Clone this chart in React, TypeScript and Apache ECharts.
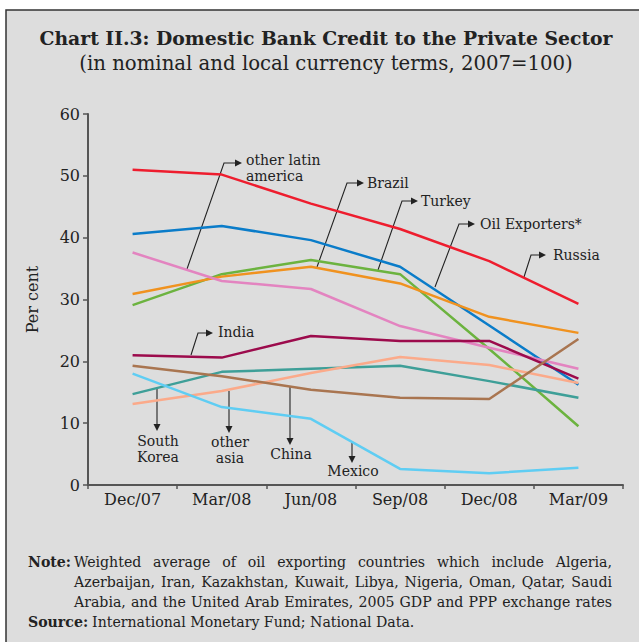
import React, { useEffect, useRef } from "react";
import * as echarts from "echarts";

const categories = ["Dec/07", "Mar/08", "Jun/08", "Sep/08", "Dec/08", "Mar/09"];
const russia = [51.0, 50.2, 45.5, 41.4, 36.2, 29.3];
const oilExporters = [40.6, 41.9, 39.6, 35.3, 25.8, 16.2];
const turkey = [29.1, 34.1, 36.4, 34.1, 22.0, 9.5];
const brazil = [30.9, 33.7, 35.3, 32.6, 27.2, 24.6];
const otherLatinAmerica = [37.6, 33.0, 31.7, 25.7, 22.2, 18.8];
const india = [21.0, 20.6, 24.1, 23.3, 23.3, 17.2];
const southKorea = [14.7, 18.3, 18.8, 19.3, 16.8, 14.1];
const otherAsia = [13.1, 15.2, 18.1, 20.7, 19.4, 16.5];
const china = [19.3, 17.6, 15.4, 14.1, 13.9, 23.6];
const mexico = [18.0, 12.6, 10.7, 2.6, 1.9, 2.8];

const seriesDefs = [
  { name: "Russia", data: russia, color: "#ee1d2e" },
  { name: "Oil Exporters*", data: oilExporters, color: "#0a7cc9" },
  { name: "Turkey", data: turkey, color: "#6cb33f" },
  { name: "Brazil", data: brazil, color: "#f0921f" },
  { name: "other latin america", data: otherLatinAmerica, color: "#e384c0" },
  { name: "India", data: india, color: "#9c0b4c" },
  { name: "South Korea", data: southKorea, color: "#3e9f98" },
  { name: "other asia", data: otherAsia, color: "#fbaa8a" },
  { name: "China", data: china, color: "#a97550" },
  { name: "Mexico", data: mexico, color: "#5fcdf3" },
];

const titleText = "Chart II.3: Domestic Bank Credit to the Private Sector";
const subtitleText = "(in nominal and local currency terms, 2007=100)";
const noteLines = [
  "Weighted average of oil exporting countries which include Algeria,",
  "Azerbaijan, Iran, Kazakhstan, Kuwait, Libya, Nigeria, Oman, Qatar, Saudi",
  "Arabia, and the United Arab Emirates, 2005 GDP and PPP exchange rates",
];
const sourceText = "International Monetary Fund; National Data.";

const SERIF = "'DejaVu Serif', serif";
const NOTE_FONT = "15.7px 'DejaVu Serif Condensed', 'DejaVu Serif', serif";
const NOTE_BOLD = "bold 15.7px 'DejaVu Serif Condensed', 'DejaVu Serif', serif";
const INK = "#222";

function measure(text: string, font: string): number {
  const c = document.createElement("canvas");
  const ctx = c.getContext("2d");
  if (!ctx) return text.length * 7;
  ctx.font = font;
  return ctx.measureText(text).width;
}

function justified(line: string, x0: number, x1: number, y: number, font: string) {
  const words = line.split(" ");
  const widths = words.map((w) => measure(w, font));
  const total = widths.reduce((a, b) => a + b, 0);
  const gap = (x1 - x0 - total) / (words.length - 1);
  const out: any[] = [];
  let x = x0;
  words.forEach((w, i) => {
    out.push({
      type: "text",
      style: { text: w, x, y, font, fill: INK, textVerticalAlign: "middle" },
    });
    x += widths[i] + gap;
  });
  return out;
}

function rightArrow(points: number[][], label: string[], tx: number, ty: number) {
  const last = points[points.length - 1];
  const els: any[] = [
    {
      type: "polyline",
      shape: { points },
      style: { stroke: INK, lineWidth: 1.1, fill: null },
    },
    {
      type: "polygon",
      shape: { points: [[last[0] + 2, last[1]], [last[0] - 5, last[1] - 3.5], [last[0] - 5, last[1] + 3.5]] },
      style: { fill: INK },
    },
  ];
  label.forEach((t, i) => {
    els.push({
      type: "text",
      style: { text: t, x: tx, y: ty + i * 15.5, font: `14px ${SERIF}`, fill: INK, textVerticalAlign: "middle" },
    });
  });
  return els;
}

function downArrow(x: number, y0: number, y1: number, label: string[], ty: number) {
  const els: any[] = [
    { type: "line", shape: { x1: x, y1: y0, x2: x, y2: y1 - 3 }, style: { stroke: INK, lineWidth: 1.1 } },
    {
      type: "polygon",
      shape: { points: [[x, y1 + 1], [x - 3.5, y1 - 6], [x + 3.5, y1 - 6]] },
      style: { fill: INK },
    },
  ];
  label.forEach((t, i) => {
    els.push({
      type: "text",
      style: { text: t, x: x + 1, y: ty + i * 15.5, font: `14px ${SERIF}`, fill: INK, textAlign: "center", textVerticalAlign: "middle" },
    });
  });
  return els;
}

export default function App() {
  const ref = useRef<HTMLDivElement>(null);
  useEffect(() => {
    if (!ref.current) return;
    const chart = echarts.init(ref.current, null, { renderer: "svg" });
    const sourceLabelW = measure("Source:", NOTE_BOLD);
    const graphics: any[] = [
      {
        type: "rect",
        z: -10,
        shape: { x: 6, y: 10, width: 650, height: 650 },
        style: { fill: "#dddddd", stroke: "#333", lineWidth: 1.5 },
      },
      {
        type: "text",
        style: { text: titleText, x: 326, y: 38, font: `bold 18.8px ${SERIF}`, fill: INK, textAlign: "center", textVerticalAlign: "middle" },
      },
      {
        type: "text",
        style: { text: subtitleText, x: 326, y: 63, font: `19.7px ${SERIF}`, fill: INK, textAlign: "center", textVerticalAlign: "middle" },
      },
      ...rightArrow([[187, 269], [224, 163], [240, 163]], ["other latin", "america"], 246, 160),
      ...rightArrow([[317, 267], [347, 183], [362, 183]], ["Brazil"], 367, 183),
      ...rightArrow([[378, 270], [402, 201], [416, 201]], ["Turkey"], 421, 201),
      ...rightArrow([[435, 287], [459, 224], [473, 224]], ["Oil Exporters*"], 480, 224),
      ...rightArrow([[524, 277], [531, 255], [544, 255]], ["Russia"], 553, 255),
      ...rightArrow([[191, 355], [198, 333], [211, 333]], ["India"], 218, 332),
      ...downArrow(157, 388, 430, ["South", "Korea"], 441),
      ...downArrow(229, 391, 432, ["other", "asia"], 442),
      ...downArrow(290, 387, 444, ["China"], 454),
      ...downArrow(352, 443, 462, ["Mexico"], 471),
      {
        type: "text",
        style: { text: "Note:", x: 28, y: 561, font: NOTE_BOLD, fill: INK, textVerticalAlign: "middle" },
      },
      ...justified(noteLines[0], 74, 612, 561, NOTE_FONT),
      ...justified(noteLines[1], 74, 612, 581, NOTE_FONT),
      ...justified(noteLines[2], 74, 612, 601, NOTE_FONT),
      {
        type: "text",
        style: { text: "Source:", x: 28, y: 621, font: NOTE_BOLD, fill: INK, textVerticalAlign: "middle" },
      },
      {
        type: "text",
        style: { text: sourceText, x: 28 + sourceLabelW + 4, y: 621, font: NOTE_FONT, fill: INK, textVerticalAlign: "middle" },
      },
    ];

    chart.setOption({
      animation: false,
      backgroundColor: "#ffffff",
      grid: { left: 88, right: 16, top: 114, bottom: 157, containLabel: false },
      xAxis: {
        type: "category",
        data: categories,
        boundaryGap: true,
        axisLine: { lineStyle: { color: "#555", width: 2 } },
        axisTick: { show: true, length: 4, lineStyle: { color: "#555", width: 1.5 } },
        axisLabel: { color: INK, fontFamily: SERIF, fontSize: 16, margin: 6 },
        splitLine: { show: false },
      },
      yAxis: {
        type: "value",
        min: 0,
        max: 60,
        interval: 10,
        name: "Per cent",
        nameLocation: "middle",
        nameGap: 48,
        nameTextStyle: { color: INK, fontFamily: SERIF, fontSize: 16 },
        axisLine: { show: true, lineStyle: { color: "#555", width: 2 } },
        axisTick: { show: true, length: 5, lineStyle: { color: "#555", width: 1.5 } },
        axisLabel: { color: INK, fontFamily: SERIF, fontSize: 16, margin: 8 },
        splitLine: { show: false },
      },
      series: seriesDefs.map((s) => ({
        type: "line",
        name: s.name,
        data: s.data,
        symbol: "none",
        lineStyle: { color: s.color, width: 2.5 },
        itemStyle: { color: s.color },
      })),
      graphic: graphics,
    });
    return () => chart.dispose();
  }, []);
  return (
    <div style={{ position: "absolute", left: 0, top: 0, width: 639, height: 642, background: "#fff" }}>
      <div ref={ref} style={{ width: 639, height: 642 }} />
    </div>
  );
}
